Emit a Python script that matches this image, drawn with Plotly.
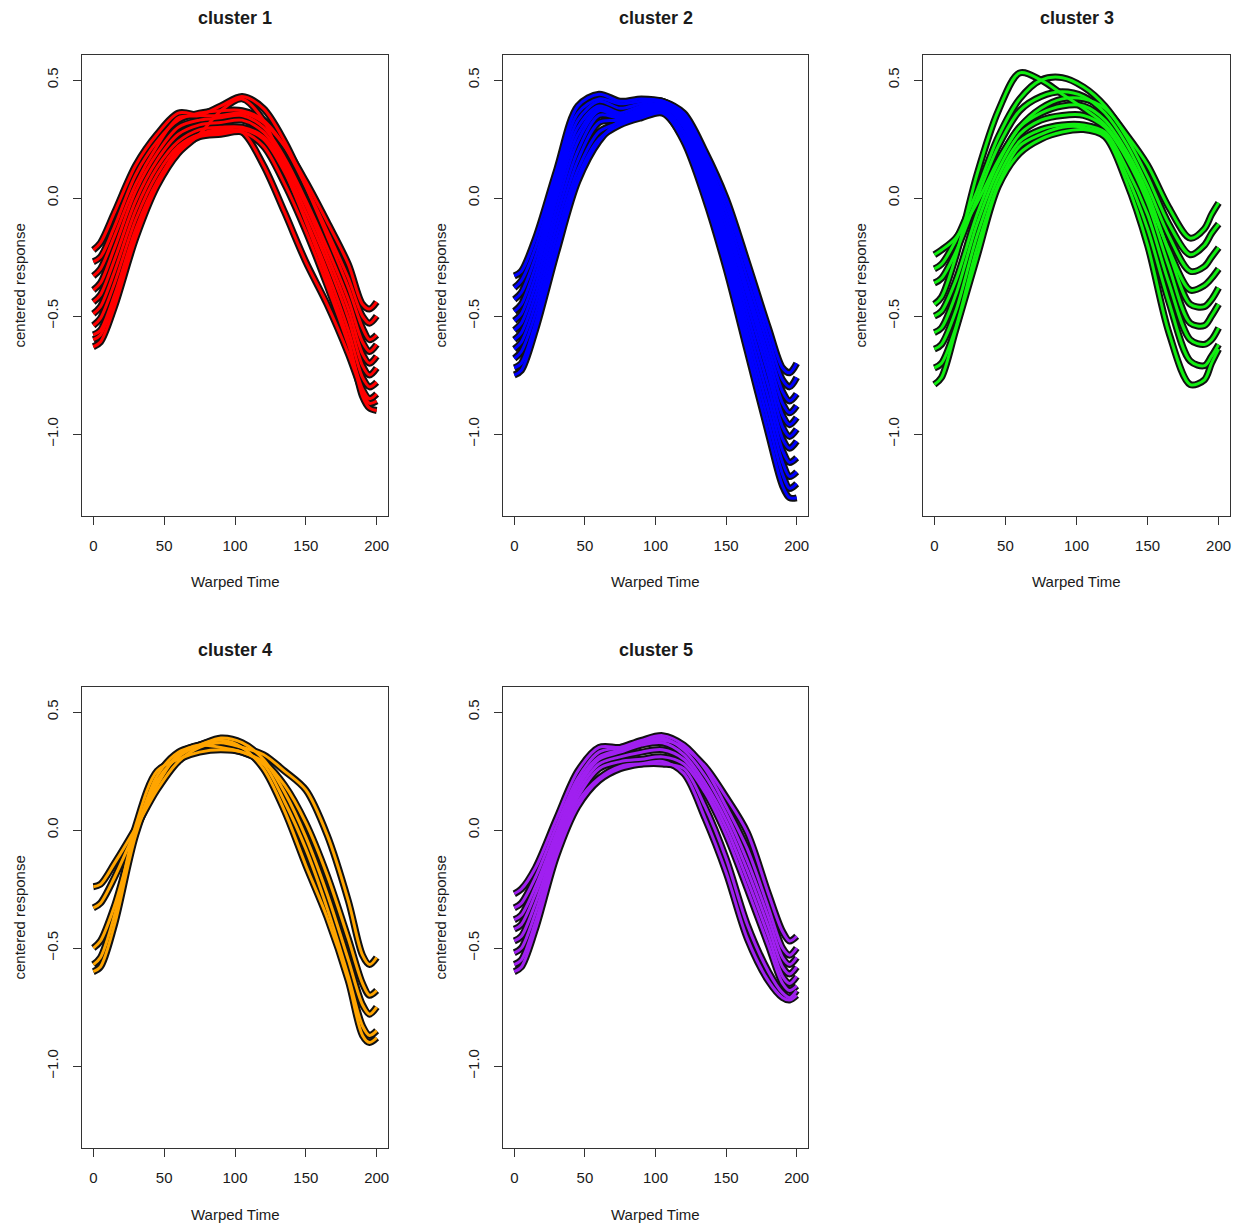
import plotly.graph_objects as go

# ---------------- data ----------------
warped_time = [0, 5, 15, 30, 45, 60, 75, 90, 105, 120, 135, 150, 165, 180, 190, 195, 200]

cluster1_curves = [
    [-0.22, -0.19, -0.06, 0.14, 0.27, 0.36, 0.35, 0.35, 0.36, 0.32, 0.22, 0.07, -0.10, -0.28, -0.45, -0.47, -0.44],
    [-0.27, -0.25, -0.12, 0.10, 0.24, 0.33, 0.36, 0.37, 0.37, 0.33, 0.22, 0.05, -0.14, -0.34, -0.50, -0.53, -0.50],
    [-0.33, -0.30, -0.16, 0.06, 0.22, 0.34, 0.35, 0.39, 0.43, 0.38, 0.24, 0.05, -0.16, -0.38, -0.55, -0.60, -0.58],
    [-0.39, -0.36, -0.21, 0.03, 0.19, 0.30, 0.33, 0.34, 0.35, 0.30, 0.17, -0.01, -0.21, -0.43, -0.61, -0.65, -0.62],
    [-0.44, -0.41, -0.26, -0.01, 0.16, 0.27, 0.31, 0.32, 0.33, 0.28, 0.15, -0.03, -0.24, -0.47, -0.66, -0.70, -0.67],
    [-0.49, -0.46, -0.31, -0.05, 0.13, 0.24, 0.29, 0.30, 0.30, 0.26, 0.13, -0.06, -0.27, -0.51, -0.71, -0.75, -0.72],
    [-0.54, -0.51, -0.36, -0.09, 0.10, 0.22, 0.27, 0.28, 0.29, 0.25, 0.11, -0.09, -0.31, -0.56, -0.76, -0.80, -0.78],
    [-0.58, -0.56, -0.41, -0.13, 0.07, 0.20, 0.26, 0.27, 0.28, 0.22, 0.06, -0.14, -0.37, -0.62, -0.81, -0.85, -0.83],
    [-0.63, -0.61, -0.46, -0.17, 0.05, 0.19, 0.27, 0.37, 0.42, 0.33, 0.12, -0.10, -0.34, -0.60, -0.84, -0.89, -0.90],
    [-0.60, -0.58, -0.43, -0.15, 0.06, 0.21, 0.27, 0.29, 0.28, 0.14, -0.06, -0.27, -0.45, -0.66, -0.82, -0.87, -0.86],
]

cluster2_curves = [
    [-0.33, -0.31, -0.17, 0.12, 0.39, 0.44, 0.41, 0.42, 0.41, 0.36, 0.20, 0.00, -0.27, -0.55, -0.72, -0.74, -0.70],
    [-0.38, -0.35, -0.21, 0.09, 0.36, 0.42, 0.40, 0.41, 0.41, 0.35, 0.18, -0.03, -0.30, -0.59, -0.77, -0.80, -0.76],
    [-0.43, -0.40, -0.25, 0.06, 0.33, 0.41, 0.38, 0.40, 0.41, 0.34, 0.16, -0.06, -0.34, -0.63, -0.82, -0.86, -0.83],
    [-0.48, -0.45, -0.29, 0.03, 0.30, 0.39, 0.36, 0.39, 0.40, 0.33, 0.14, -0.09, -0.38, -0.67, -0.87, -0.91, -0.88],
    [-0.52, -0.49, -0.33, 0.00, 0.27, 0.38, 0.35, 0.38, 0.40, 0.32, 0.12, -0.12, -0.41, -0.71, -0.92, -0.96, -0.93],
    [-0.56, -0.53, -0.37, -0.04, 0.24, 0.37, 0.34, 0.37, 0.39, 0.31, 0.10, -0.15, -0.45, -0.75, -0.97, -1.01, -0.98],
    [-0.60, -0.57, -0.41, -0.08, 0.20, 0.35, 0.34, 0.37, 0.39, 0.30, 0.08, -0.18, -0.49, -0.80, -1.02, -1.06, -1.03],
    [-0.64, -0.61, -0.45, -0.12, 0.16, 0.32, 0.33, 0.36, 0.38, 0.28, 0.06, -0.21, -0.53, -0.85, -1.07, -1.12, -1.10],
    [-0.68, -0.65, -0.49, -0.16, 0.12, 0.28, 0.32, 0.35, 0.37, 0.27, 0.04, -0.24, -0.57, -0.90, -1.12, -1.18, -1.16],
    [-0.72, -0.70, -0.53, -0.20, 0.09, 0.25, 0.31, 0.34, 0.36, 0.25, 0.02, -0.27, -0.61, -0.95, -1.17, -1.23, -1.21],
    [-0.75, -0.73, -0.56, -0.23, 0.07, 0.24, 0.33, 0.37, 0.37, 0.24, 0.00, -0.30, -0.65, -1.00, -1.22, -1.27, -1.27],
]

cluster3_curves = [
    [-0.24, -0.22, -0.17, -0.02, 0.16, 0.30, 0.38, 0.42, 0.42, 0.38, 0.27, 0.14, -0.04, -0.17, -0.13, -0.07, -0.02],
    [-0.30, -0.28, -0.18, 0.03, 0.26, 0.42, 0.50, 0.51, 0.47, 0.39, 0.26, 0.09, -0.11, -0.24, -0.20, -0.15, -0.11],
    [-0.36, -0.34, -0.23, 0.00, 0.22, 0.37, 0.43, 0.45, 0.43, 0.36, 0.23, 0.05, -0.16, -0.31, -0.29, -0.25, -0.21],
    [-0.45, -0.42, -0.25, 0.10, 0.37, 0.53, 0.50, 0.44, 0.38, 0.31, 0.18, 0.00, -0.22, -0.39, -0.37, -0.34, -0.30],
    [-0.50, -0.48, -0.35, -0.07, 0.15, 0.30, 0.36, 0.39, 0.39, 0.33, 0.20, 0.02, -0.23, -0.45, -0.46, -0.43, -0.38],
    [-0.57, -0.55, -0.41, -0.11, 0.12, 0.27, 0.33, 0.35, 0.35, 0.30, 0.17, -0.02, -0.29, -0.53, -0.54, -0.50, -0.45],
    [-0.64, -0.62, -0.48, -0.16, 0.09, 0.24, 0.29, 0.31, 0.31, 0.28, 0.13, -0.07, -0.36, -0.60, -0.62, -0.60, -0.55],
    [-0.72, -0.70, -0.55, -0.21, 0.06, 0.22, 0.27, 0.30, 0.30, 0.27, 0.10, -0.13, -0.44, -0.69, -0.71, -0.67, -0.62],
    [-0.79, -0.76, -0.56, -0.25, 0.05, 0.19, 0.25, 0.28, 0.29, 0.26, 0.07, -0.20, -0.57, -0.79, -0.77, -0.70, -0.64],
]

cluster4_curves = [
    [-0.24, -0.23, -0.14, 0.01, 0.17, 0.29, 0.35, 0.37, 0.35, 0.32, 0.25, 0.17, -0.02, -0.30, -0.53, -0.57, -0.54],
    [-0.33, -0.31, -0.20, 0.00, 0.19, 0.32, 0.36, 0.35, 0.33, 0.29, 0.19, 0.03, -0.19, -0.46, -0.65, -0.70, -0.68],
    [-0.50, -0.47, -0.32, -0.01, 0.23, 0.33, 0.36, 0.39, 0.37, 0.30, 0.16, -0.03, -0.27, -0.55, -0.74, -0.78, -0.75],
    [-0.57, -0.54, -0.36, 0.02, 0.25, 0.30, 0.33, 0.34, 0.33, 0.28, 0.12, -0.08, -0.33, -0.62, -0.83, -0.87, -0.85],
    [-0.60, -0.58, -0.40, -0.02, 0.21, 0.31, 0.36, 0.38, 0.35, 0.26, 0.08, -0.15, -0.37, -0.64, -0.87, -0.90, -0.88],
]

cluster5_curves = [
    [-0.27, -0.25, -0.16, 0.05, 0.25, 0.35, 0.35, 0.37, 0.38, 0.35, 0.27, 0.14, -0.01, -0.27, -0.43, -0.47, -0.45],
    [-0.33, -0.31, -0.20, 0.02, 0.22, 0.33, 0.35, 0.38, 0.40, 0.36, 0.26, 0.10, -0.08, -0.33, -0.50, -0.53, -0.50],
    [-0.38, -0.36, -0.24, -0.01, 0.20, 0.31, 0.34, 0.37, 0.39, 0.34, 0.23, 0.07, -0.13, -0.37, -0.54, -0.57, -0.54],
    [-0.42, -0.40, -0.27, -0.03, 0.18, 0.30, 0.33, 0.36, 0.37, 0.32, 0.20, 0.04, -0.17, -0.41, -0.58, -0.61, -0.58],
    [-0.47, -0.45, -0.31, -0.05, 0.16, 0.28, 0.31, 0.33, 0.34, 0.30, 0.18, 0.01, -0.21, -0.45, -0.62, -0.65, -0.62],
    [-0.52, -0.50, -0.35, -0.07, 0.14, 0.26, 0.29, 0.30, 0.31, 0.28, 0.16, -0.02, -0.25, -0.49, -0.65, -0.68, -0.66],
    [-0.57, -0.55, -0.39, -0.09, 0.12, 0.22, 0.27, 0.28, 0.28, 0.26, 0.10, -0.12, -0.40, -0.60, -0.69, -0.71, -0.68],
    [-0.60, -0.58, -0.42, -0.11, 0.10, 0.21, 0.26, 0.28, 0.29, 0.24, 0.05, -0.18, -0.46, -0.64, -0.71, -0.72, -0.70],
]

cluster_titles = ["cluster 1", "cluster 2", "cluster 3", "cluster 4", "cluster 5"]
cluster_colors = ["#FF0000", "#0000FF", "#11EE11", "#FFA500", "#A020F0"]
x_tick_values = [0, 50, 100, 150, 200]
y_tick_values = [-1.0, -0.5, 0.0, 0.5]
x_label = "Warped Time"
y_label = "centered response"

all_curves = [cluster1_curves, cluster2_curves, cluster3_curves, cluster4_curves, cluster5_curves]

# ---------------- layout geometry (pixels of the page) ----------------
OFF = 8                      # the page body margin shifts the figure by 8 px
W, H = 1243 - OFF, 1228 - OFF
boxes_page = [(82, 388, 55, 516), (503, 808, 55, 516), (923, 1230, 55, 516),
              (82, 388, 687, 1148), (503, 808, 687, 1148)]
boxes = [(l - OFF, r - OFF, t - OFF, b - OFF) for (l, r, t, b) in boxes_page]

FONT = "Liberation Sans, Arial, Helvetica, sans-serif"
TXT = "#1a1a1a"
AXC = "#333333"

fig = go.Figure()

# black "circle" bands first, coloured fitted lines on top
for i, curves in enumerate(all_curves):
    sfx = "" if i == 0 else str(i + 1)
    for ys in curves:
        fig.add_trace(go.Scatter(
            x=warped_time, y=ys, mode="lines",
            line=dict(color="#111111", width=7, shape="spline", smoothing=0.9),
            xaxis="x" + sfx, yaxis="y" + sfx, showlegend=False, hoverinfo="skip"))
for i, (curves, color) in enumerate(zip(all_curves, cluster_colors)):
    sfx = "" if i == 0 else str(i + 1)
    for ys in curves:
        fig.add_trace(go.Scatter(
            x=warped_time, y=ys, mode="lines",
            line=dict(color=color, width=3, shape="spline", smoothing=0.9),
            xaxis="x" + sfx, yaxis="y" + sfx, showlegend=False, hoverinfo="skip"))

annotations = []
layout_axes = {}
for i, (l, r, t, b) in enumerate(boxes):
    sfx = "" if i == 0 else str(i + 1)
    layout_axes["xaxis" + sfx] = dict(
        domain=[l / W, r / W], anchor="y" + sfx, range=[-8, 208],
        tickvals=x_tick_values, showline=True, mirror=True, linecolor=AXC, linewidth=1,
        ticks="outside", ticklen=8, tickcolor=AXC, tickwidth=1,
        showgrid=False, zeroline=False, ticklabelstandoff=8,
        tickfont=dict(family=FONT, size=15, color=TXT))
    layout_axes["yaxis" + sfx] = dict(
        domain=[1 - b / H, 1 - t / H], anchor="x" + sfx, range=[-1.347, 0.606],
        tickvals=y_tick_values, tickformat=".1f", tickangle=-90,
        showline=True, mirror=True, linecolor=AXC, linewidth=1,
        ticks="outside", ticklen=8, tickcolor=AXC, tickwidth=1,
        showgrid=False, zeroline=False, ticklabelstandoff=9,
        tickfont=dict(family=FONT, size=15, color=TXT))
    cx = (l + r) / 2
    cy = (t + b) / 2
    annotations.append(dict(text="<b>" + cluster_titles[i] + "</b>", x=cx / W, y=1 - (t - 37) / H,
                            xref="paper", yref="paper", showarrow=False, xanchor="center", yanchor="middle",
                            font=dict(family=FONT, size=18, color=TXT)))
    annotations.append(dict(text=x_label, x=cx / W, y=1 - (b + 66) / H,
                            xref="paper", yref="paper", showarrow=False, xanchor="center", yanchor="middle",
                            font=dict(family=FONT, size=15, color=TXT)))
    annotations.append(dict(text=y_label, x=(l - 63) / W, y=1 - cy / H, textangle=-90,
                            xref="paper", yref="paper", showarrow=False, xanchor="center", yanchor="middle",
                            font=dict(family=FONT, size=15, color=TXT)))

fig.update_layout(
    width=W, height=H, margin=dict(l=0, r=0, t=0, b=0),
    paper_bgcolor="white", plot_bgcolor="white",
    annotations=annotations, **layout_axes)

fig.write_html("out.html")
